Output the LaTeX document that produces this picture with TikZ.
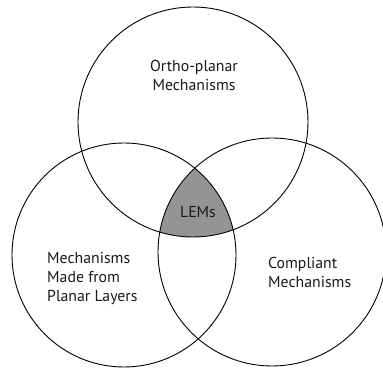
\documentclass[tikz,border=0pt]{standalone}
\usepackage{fontspec}
\setmainfont{PT Sans}
\begin{document}
\begin{tikzpicture}[x=1pt,y=-1pt,
  ring/.style={draw=black,line width=0.9pt},
  lbl/.style={font=\fontsize{15.8}{19}\selectfont,inner sep=0pt,text=black!90}]
\useasboundingbox (0,0) rectangle (383,371);
\coordinate (T) at (193,122);
\coordinate (L) at (124,255);
\coordinate (R) at (272,252);
\begin{scope}
  \clip (T) circle (115);
  \clip (L) circle (112);
  \fill[black!42] (R) circle (114);
\end{scope}
\draw[ring] (T) circle (115);
\draw[ring] (L) circle (112);
\draw[ring] (R) circle (114);
\node[lbl,align=center] (ortho) at (194,75) {Ortho-planar\\Mechanisms};
\node[lbl] (lems) at (198,212) {LEMs};
\node[lbl,align=left,anchor=west] (planar) at (47,279) {Mechanisms\\Made from\\Planar Layers};
\node[lbl,align=left,anchor=west] (compliant) at (268,272) {Compliant\\Mechanisms};
\end{tikzpicture}
\end{document}
